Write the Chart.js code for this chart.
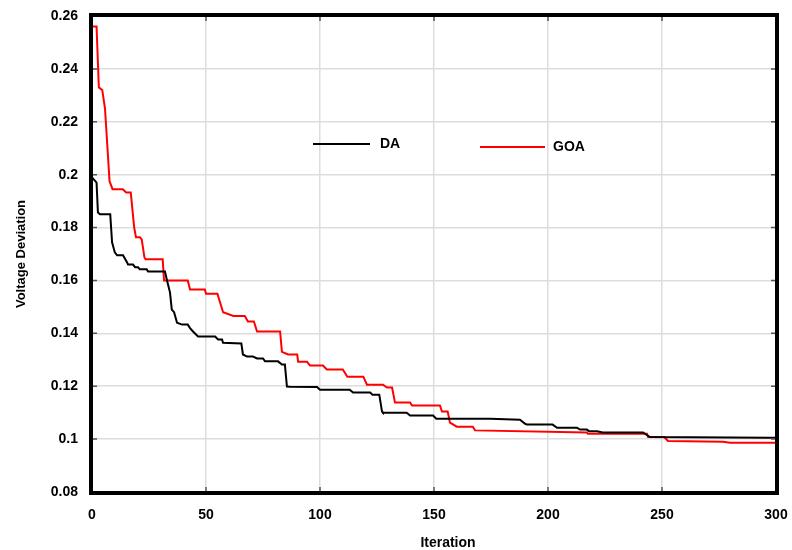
<!DOCTYPE html>
<html lang="en">
<head>
  <meta charset="UTF-8">
  <title>Voltage Deviation - DA vs GOA</title>
  <script src="https://cdn.jsdelivr.net/npm/chart.js"></script>
  <style>
    html, body { margin: 0; padding: 0; background: #fff; }
    #wrap { width: 792px; height: 550px; }
  </style>
</head>
<body>
  <div id="wrap"><canvas id="convChart" width="792" height="550"></canvas></div>

  <script>
    // iteration / value pairs (break points only)
    var daIter = [0, 2, 2.6, 3.5, 8, 8.8, 10, 11, 13.6, 15.4, 15.8, 18, 18.9, 20.2, 21, 24, 24.6, 32,
      32.9, 34.2, 35, 36, 37.3, 39.5, 42, 43, 44.3, 46.5, 54, 55.3, 57, 57.5, 65.5, 66.2, 68, 70.6, 72.4, 75,
      75.9, 81.6, 83.3, 84.6, 85.5, 86.8, 98.7, 100, 113, 114.5, 122, 123, 126, 127.2, 127.6, 138, 139.5,
      149.6, 151, 174.6, 187.7, 190, 190.8, 202, 204, 212.7, 214, 217, 218, 221.5, 224, 241.7, 244.7, 297, 300];
    var daVal = [0.199, 0.197, 0.1857, 0.185, 0.185, 0.1744, 0.1706, 0.1695, 0.1695, 0.1668, 0.166, 0.166, 0.165, 0.165, 0.1642, 0.1642, 0.1634, 0.1634,
      0.16, 0.1555, 0.149, 0.148, 0.144, 0.1433, 0.1433, 0.142, 0.1407, 0.1388, 0.1388, 0.1377, 0.1377, 0.1364, 0.1362, 0.132, 0.1312, 0.1312, 0.1305, 0.1305,
      0.1294, 0.1294, 0.1282, 0.1282, 0.1199, 0.1198, 0.1197, 0.1187, 0.1187, 0.1176, 0.1176, 0.1168, 0.1168, 0.1104, 0.110, 0.110, 0.1089,
      0.1089, 0.1077, 0.1077, 0.1073, 0.1058, 0.1055, 0.1055, 0.1043, 0.1043, 0.1036, 0.1036, 0.103, 0.103, 0.1025, 0.1025, 0.1008, 0.1005, 0.1005];

    var goaIter = [0, 2, 3, 4.5, 5.7, 7.7, 9, 13.5, 15, 17, 18.5, 19.3, 21, 21.8, 23, 23.5, 31, 31.6, 42, 43, 49.5, 50, 55, 57.5,
      62, 67, 68.4, 71, 72.4, 82.5, 83.3, 86, 90, 90.4, 94.3, 95.6, 101.3, 103, 110, 112, 119, 120.6, 127.6, 129.4, 131.6,
      132.9, 139.5, 140.4, 152.6, 153.5, 156, 157, 160, 167, 168, 217, 217.5, 243.4, 243.9, 251, 252.6, 276.8, 279.8, 300];
    var goaVal = [0.256, 0.256, 0.233, 0.232, 0.225, 0.1975, 0.1945, 0.1945, 0.1933, 0.1933, 0.18, 0.1763, 0.1763, 0.1755, 0.1687, 0.168, 0.168, 0.160, 0.160, 0.1566, 0.1566, 0.155, 0.155, 0.148,
      0.1466, 0.1466, 0.1445, 0.1445, 0.1407, 0.1407, 0.133, 0.132, 0.132, 0.1293, 0.1293, 0.1278, 0.1278, 0.1263, 0.1263, 0.1236, 0.1236, 0.1206, 0.1206, 0.1195, 0.1195,
      0.1138, 0.1138, 0.1127, 0.1127, 0.1104, 0.1104, 0.1062, 0.1047, 0.1047, 0.1033, 0.1025, 0.102, 0.102, 0.1008, 0.1008, 0.0993, 0.099, 0.0986, 0.0986];

    var seriesNames = ['DA', 'GOA'];
    var seriesColors = ['#000000', '#ff0000'];

    var xTicks = [0, 50, 100, 150, 200, 250, 300];
    var yTicks = [0.08, 0.1, 0.12, 0.14, 0.16, 0.18, 0.2, 0.22, 0.24, 0.26];

    function toPoints(xs, ys) {
      return xs.map(function (x, i) { return { x: x, y: ys[i] }; });
    }

    var FONT = '"Liberation Sans", Arial, sans-serif';

    // thick frame, inner tick marks, x title and the in-plot legend
    var framePlugin = {
      id: 'frame',
      afterDraw: function (chart) {
        var ctx = chart.ctx;
        var a = chart.chartArea;
        var xs = chart.scales.x, ys = chart.scales.y;
        ctx.save();

        ctx.strokeStyle = '#555';
        ctx.lineWidth = 1.5;
        xTicks.forEach(function (t) {
          var px = xs.getPixelForValue(t);
          ctx.beginPath();
          ctx.moveTo(px, a.bottom); ctx.lineTo(px, a.bottom - 5);
          ctx.moveTo(px, a.top); ctx.lineTo(px, a.top + 5);
          ctx.stroke();
        });
        yTicks.forEach(function (t) {
          var py = ys.getPixelForValue(t);
          ctx.beginPath();
          ctx.moveTo(a.left, py); ctx.lineTo(a.left + 5, py);
          ctx.moveTo(a.right, py); ctx.lineTo(a.right - 5, py);
          ctx.stroke();
        });

        ctx.strokeStyle = '#000';
        ctx.lineWidth = 4;
        ctx.strokeRect(a.left - 1, a.top - 1, a.right - a.left + 2, a.bottom - a.top + 2);

        ctx.fillStyle = '#000';
        ctx.font = 'bold 14px ' + FONT;
        ctx.textAlign = 'center';
        ctx.textBaseline = 'middle';
        ctx.fillText('Iteration', 448, 543);

        // legend
        var legendPos = [[313, 370, 144, 380], [480, 545, 147, 553]];
        ctx.textAlign = 'left';
        chart.data.datasets.forEach(function (ds, i) {
          var p = legendPos[i];
          ctx.strokeStyle = ds.borderColor;
          ctx.lineWidth = 2;
          ctx.beginPath();
          ctx.moveTo(p[0], p[2]); ctx.lineTo(p[1], p[2]);
          ctx.stroke();
          ctx.fillStyle = '#000';
          ctx.fillText(ds.label, p[3], p[2]);
        });
        ctx.restore();
      }
    };

    var ctx = document.getElementById('convChart').getContext('2d');
    var convChart = new Chart(ctx, {
      type: 'line',
      data: {
        datasets: [
          { label: seriesNames[0], data: toPoints(daIter, daVal), borderColor: seriesColors[0], borderWidth: 2, pointRadius: 0, tension: 0 },
          { label: seriesNames[1], data: toPoints(goaIter, goaVal), borderColor: seriesColors[1], borderWidth: 2, pointRadius: 0, tension: 0 }
        ]
      },
      options: {
        responsive: false,
        animation: false,
        layout: { padding: { left: 0, top: 16, right: 16, bottom: 0 } },
        plugins: { legend: { display: false }, tooltip: { enabled: false } },
        scales: {
          x: {
            type: 'linear',
            min: 0, max: 300,
            afterFit: function (s) { s.height = 58; s.paddingLeft = 0; s.paddingRight = 0; },
            afterBuildTicks: function (s) { s.ticks = xTicks.map(function (v) { return { value: v }; }); },
            grid: { color: '#dddddd', lineWidth: 1.5, drawTicks: false },
            border: { display: false },
            ticks: { color: '#000', padding: 15, maxRotation: 0, font: { family: FONT, size: 14, weight: 'bold' } },
            title: { display: false }
          },
          y: {
            min: 0.08, max: 0.26,
            afterFit: function (s) { s.width = 92; s.paddingTop = 0; s.paddingBottom = 0; },
            afterBuildTicks: function (s) { s.ticks = yTicks.map(function (v) { return { value: v }; }); },
            grid: { color: '#dddddd', lineWidth: 1.5, drawTicks: false },
            border: { display: false },
            ticks: {
              color: '#000', padding: 14,
              font: { family: FONT, size: 14, weight: 'bold' },
              callback: function (v) { return String(parseFloat(Number(v).toFixed(2))); }
            },
            title: { display: true, text: 'Voltage Deviation', color: '#000', padding: { top: 14, bottom: 0 }, font: { family: FONT, size: 13, weight: 'bold' } }
          }
        }
      },
      plugins: [framePlugin]
    });
  </script>
</body>
</html>
